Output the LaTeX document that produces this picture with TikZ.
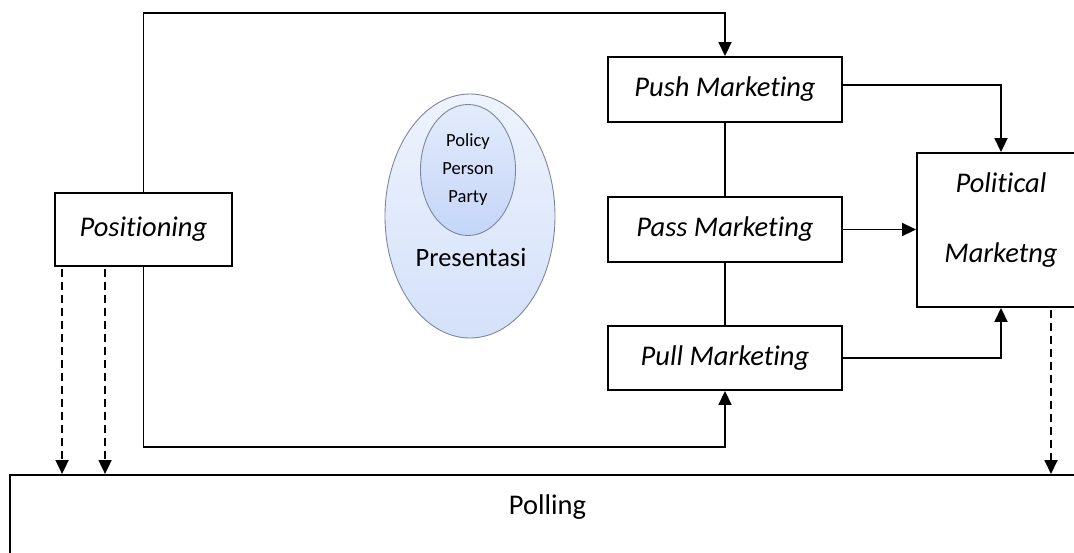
\documentclass[tikz,border=0pt]{standalone}
\usepackage{fontspec}
\setmainfont{Carlito}[Ligatures=NoCommon]
\usetikzlibrary{arrows.meta,shapes.geometric,calc}
\definecolor{ellline}{RGB}{125,135,155}
\definecolor{outtop}{RGB}{238,243,253}
\definecolor{outbot}{RGB}{212,225,250}
\definecolor{intop}{RGB}{228,236,252}
\definecolor{inbot}{RGB}{196,213,248}
\begin{document}
\begin{tikzpicture}[x=1pt,y=-1pt,
  box/.style={draw, line width=1.9pt, inner sep=0pt, font=\fontsize{28.5}{34}\selectfont\itshape},
  conn/.style={line width=1.8pt},
  arr/.style={conn, -{Triangle[length=14pt,width=13pt]}},
  dasharr/.style={arr, dash pattern=on 8pt off 5pt},
  ell/.style={ellipse, draw=ellline, line width=0.9pt, inner sep=0pt},
]
\useasboundingbox (0,0) rectangle (1074,552);
\clip (0,0) rectangle (1074,552);

% boxes
\node[box, minimum width=177pt, minimum height=73pt] (pos) at (143.5,229.5) {Positioning};
\node[box, minimum width=234pt, minimum height=65pt] (push) at (725,89.5) {Push Marketing};
\node[box, minimum width=234pt, minimum height=65pt] (pass) at (725,229.5) {Pass Marketing};
\node[box, minimum width=234pt, minimum height=64pt] (pull) at (725,358) {Pull Marketing};
\node[box, minimum width=168pt, minimum height=154pt] (pol) at (1001,230) {};
\node[font=\fontsize{28.5}{70}\selectfont\itshape, align=center, inner sep=0pt] (poltext) at ([yshift=10pt]pol.center) {Political\\Marketng};
\node[draw, line width=1.9pt, inner xsep=0pt, inner ysep=0pt, minimum width=1075pt,
      text height=40pt, text depth=46pt, anchor=north, font=\fontsize{28.5}{34}\selectfont] (poll) at (547.5,474) {Polling};

% ellipses
\node[ell, top color=outtop, bottom color=outbot, minimum width=170pt, minimum height=244pt] (pres) at (470,216) {};
\node[ell, top color=intop, bottom color=inbot, minimum width=95pt, minimum height=131pt,
      font=\fontsize{18.5}{28}\selectfont, align=center] (inner) at (468,170) {Policy\\Person\\Party};
\node[anchor=base, inner sep=0pt, font=\fontsize{26.5}{32}\selectfont] (prestext) at (471,266) {Presentasi};

% connectors
\coordinate (topline) at (143.5,13);
\coordinate (botline) at (143.5,447);
\draw[arr] (pos.north) |- (push.north |- topline) -- (push.north);
\draw[arr] (pos.south) |- (pull.south |- botline) -- (pull.south);
\draw[conn] (push.south) -- (pass.north);
\draw[conn] (pass.south) -- (pull.north);
\draw[arr] ([yshift=4.5pt]push.east) -| (pol.north);
\draw[arr] (pass.east) -- (pass.east -| pol.west);
\draw[arr] (pull.east) -| (pol.south);

\coordinate (d1) at ([xshift=8pt,yshift=-2pt]pos.south west);
\coordinate (d2) at ([xshift=51pt,yshift=-2pt]pos.south west);
\coordinate (d3) at ([xshift=50pt,yshift=-2pt]pol.south);
\draw[dasharr] (d1) -- (d1 |- poll.north);
\draw[dasharr] (d2) -- (d2 |- poll.north);
\draw[dasharr] (d3) -- (d3 |- poll.north);
\end{tikzpicture}
\end{document}
